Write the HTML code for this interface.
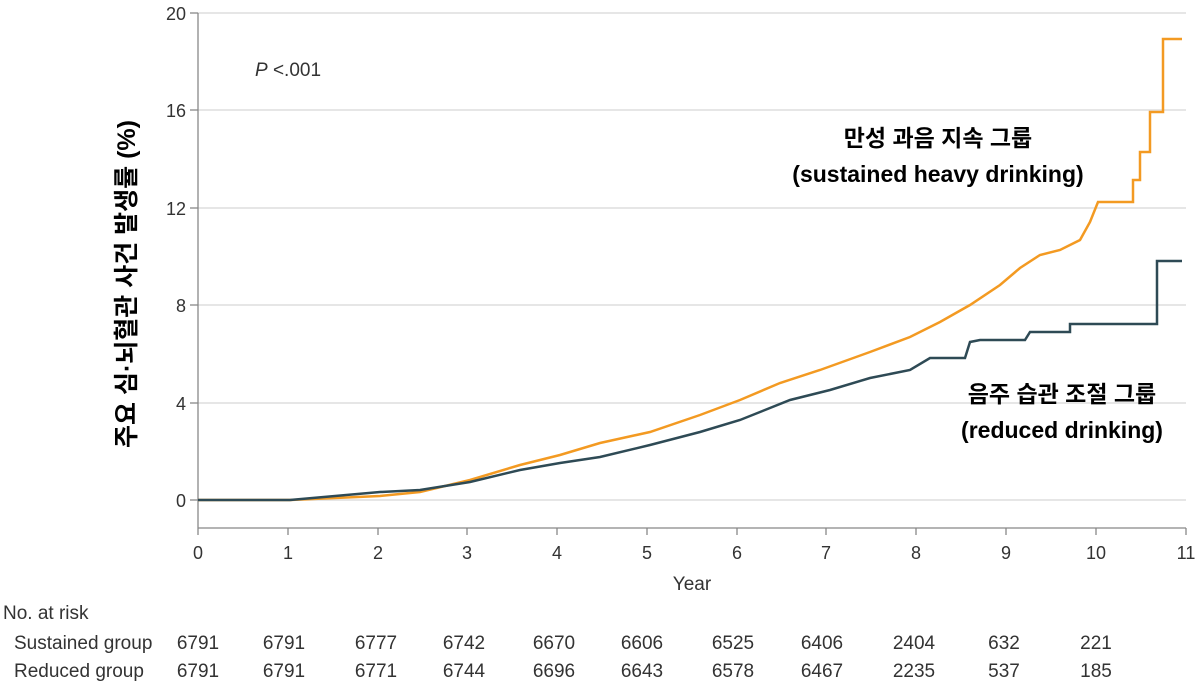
<!DOCTYPE html>
<html><head><meta charset="utf-8"><style>
body{margin:0;background:#fff;width:1200px;height:681px;overflow:hidden}
svg{display:block}
.t{font-family:"Liberation Sans","Noto Sans CJK KR",sans-serif;fill:#333}
.k{font-family:"Liberation Sans","Noto Sans CJK KR",sans-serif;font-weight:bold;fill:#000}
</style></head><body>
<svg width="1200" height="681" viewBox="0 0 1200 681">
<g stroke="#ddd" stroke-width="1.5">
<line x1="198" y1="13" x2="1186" y2="13"/>
<line x1="198" y1="110" x2="1186" y2="110"/>
<line x1="198" y1="208" x2="1186" y2="208"/>
<line x1="198" y1="305" x2="1186" y2="305"/>
<line x1="198" y1="403" x2="1186" y2="403"/>
<line x1="198" y1="500" x2="1186" y2="500"/>
</g>
<g stroke="#888" stroke-width="1.3">
<line x1="198" y1="13" x2="198" y2="528"/>
<line x1="198" y1="528" x2="1186" y2="528"/>
<line x1="190" y1="13" x2="198" y2="13"/><line x1="190" y1="110" x2="198" y2="110"/>
<line x1="190" y1="208" x2="198" y2="208"/><line x1="190" y1="305" x2="198" y2="305"/>
<line x1="190" y1="403" x2="198" y2="403"/><line x1="190" y1="500" x2="198" y2="500"/>
<line x1="198" y1="528" x2="198" y2="535"/><line x1="288" y1="528" x2="288" y2="535"/>
<line x1="378" y1="528" x2="378" y2="535"/><line x1="467" y1="528" x2="467" y2="535"/>
<line x1="557" y1="528" x2="557" y2="535"/><line x1="647" y1="528" x2="647" y2="535"/>
<line x1="737" y1="528" x2="737" y2="535"/><line x1="826" y1="528" x2="826" y2="535"/>
<line x1="916" y1="528" x2="916" y2="535"/><line x1="1006" y1="528" x2="1006" y2="535"/>
<line x1="1096" y1="528" x2="1096" y2="535"/><line x1="1186" y1="528" x2="1186" y2="535"/>
</g>
<g class="t" font-size="18" text-anchor="end">
<text x="186" y="20">20</text><text x="186" y="117">16</text><text x="186" y="215">12</text>
<text x="186" y="312">8</text><text x="186" y="410">4</text><text x="186" y="507">0</text>
</g>
<g class="t" font-size="18" text-anchor="middle">
<text x="198" y="559">0</text><text x="288" y="559">1</text><text x="378" y="559">2</text>
<text x="467" y="559">3</text><text x="557" y="559">4</text><text x="647" y="559">5</text>
<text x="737" y="559">6</text><text x="826" y="559">7</text><text x="916" y="559">8</text>
<text x="1006" y="559">9</text><text x="1096" y="559">10</text><text x="1186" y="559">11</text>
<text x="692" y="590" font-size="19">Year</text>
</g>
<text class="t" x="255" y="76" font-size="19"><tspan font-style="italic">P</tspan> &lt;.001</text>
<text class="k" font-size="25" transform="translate(135,284) rotate(-90)" text-anchor="middle">주요 심·뇌혈관 사건 발생률 (%)</text>
<polyline fill="none" stroke="#f39a22" stroke-width="2.5" points="198,500 290,500 380,496 420,492 470,480 520,465 560,455 600,443 650,432 700,415 740,400 780,383 820,370 870,352 910,337 940,322 970,305 1000,285 1020,268 1040,255 1060,250 1080,240 1090,222 1098,202 1133,202 1133,180 1140,180 1140,152 1150,152 1150,112 1163,112 1163,39 1182,39"/>
<polyline fill="none" stroke="#2e4a55" stroke-width="2.5" points="198,500 290,500 380,492 420,490 470,482 520,470 560,463 600,457 650,445 700,432 740,420 790,400 830,390 870,378 910,370 930,358 965,358 970,342 980,340 1025,340 1030,332 1070,332 1070,324 1157,324 1157,261 1182,261"/>
<g class="k" font-size="23" text-anchor="middle">
<text x="938" y="146">만성 과음 지속 그룹</text>
<text x="938" y="182">(sustained heavy drinking)</text>
<text x="1062" y="402">음주 습관 조절 그룹</text>
<text x="1062" y="438">(reduced drinking)</text>
</g>
<g class="t" font-size="19">
<text x="3" y="619">No. at risk</text>
<text x="14" y="649">Sustained group</text>
<text x="14" y="677">Reduced group</text>
</g>
<g class="t" font-size="19" text-anchor="middle">
<text x="198" y="649">6791</text><text x="284" y="649">6791</text><text x="376" y="649">6777</text><text x="464" y="649">6742</text><text x="554" y="649">6670</text><text x="642" y="649">6606</text><text x="733" y="649">6525</text><text x="822" y="649">6406</text><text x="914" y="649">2404</text><text x="1004" y="649">632</text><text x="1096" y="649">221</text>
<text x="198" y="677">6791</text><text x="284" y="677">6791</text><text x="376" y="677">6771</text><text x="464" y="677">6744</text><text x="554" y="677">6696</text><text x="642" y="677">6643</text><text x="733" y="677">6578</text><text x="822" y="677">6467</text><text x="914" y="677">2235</text><text x="1004" y="677">537</text><text x="1096" y="677">185</text>
</g>
</svg>
</body></html>
